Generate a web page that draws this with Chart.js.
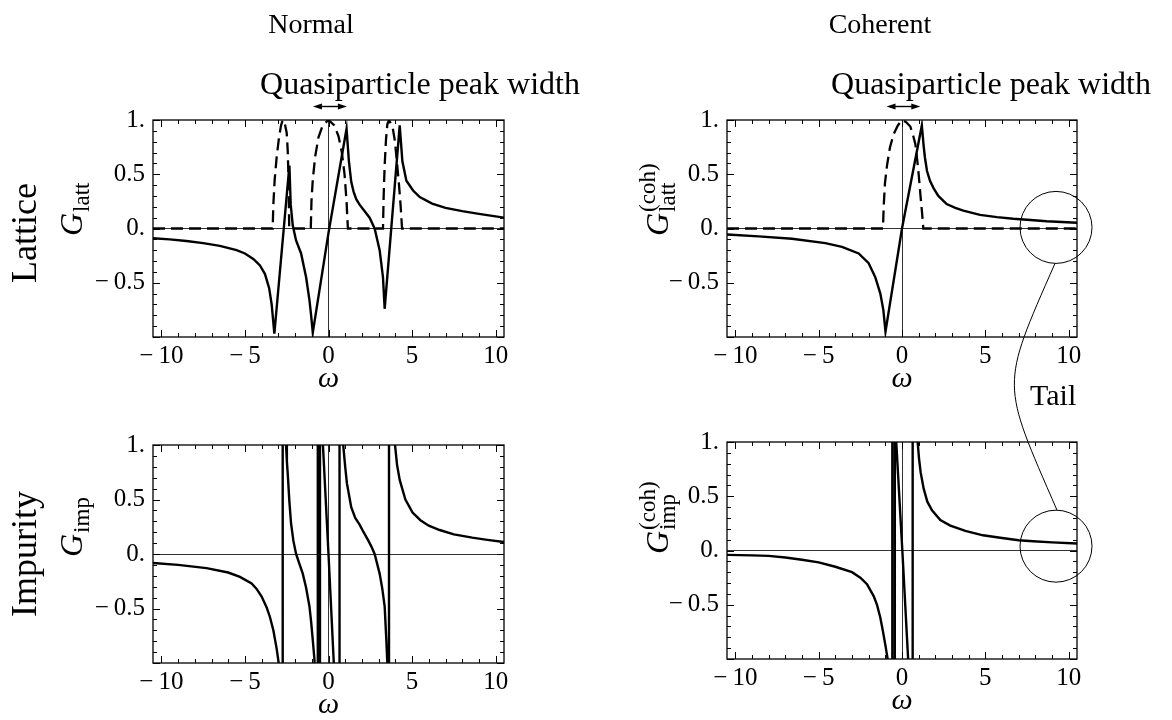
<!DOCTYPE html>
<html><head><meta charset="utf-8">
<script src="https://cdn.jsdelivr.net/npm/chart.js@4.4.1/dist/chart.umd.min.js"></script>
<style>
html,body{margin:0;padding:0;background:#fff;}
#wrap{position:relative;width:1172px;height:720px;overflow:hidden;background:#fff;}
canvas.pc{position:absolute;}
#ov{position:absolute;left:0;top:0;pointer-events:none;}
</style></head><body>
<div id="wrap">
<canvas id="c1" class="pc"></canvas>
<canvas id="c2" class="pc"></canvas>
<canvas id="c3" class="pc"></canvas>
<canvas id="c4" class="pc"></canvas>
<svg id="ov" width="1172" height="720" xmlns="http://www.w3.org/2000/svg"></svg>
</div>
<script>
// ---------------- data ----------------
const xRange = [-10.5, 10.5];
const yRange = [-1, 1];
const xTickValues = [-10, -5, 0, 5, 10];
const xTickLabels = ['\u2212\u200910', '\u2212\u20095', '0', '5', '10'];
const yTickValues = [-0.5, 0, 0.5, 1];
const yTickLabels = ['\u2212\u20090.5', '0.', '0.5', '1.'];

// Normal, lattice: Re G (solid)
const latticeNormalX = [-10.5,-9.5,-8.5,-7.5,-6.5,-5.5,-5,-4.5,-4.1,-3.8,-3.55,-3.4,-3.24,-2.34,-2.26,-2.14,-1.94,-1.64,-1.34,-1.14,-1.04,-0.94,0,1.08,1.22,1.36,1.5,1.66,1.86,2.06,2.46,2.76,3.06,3.26,3.36,4.26,4.42,4.66,5.06,5.46,6.2,7,8,9,10.5];
const latticeNormalY = [-0.09,-0.1,-0.115,-0.135,-0.16,-0.2,-0.23,-0.28,-0.34,-0.42,-0.55,-0.7,-0.97,0.58,0.22,0.03,-0.11,-0.23,-0.45,-0.66,-0.8,-0.96,-0.04,0.92,0.62,0.43,0.34,0.27,0.22,0.18,0.1,0.0,-0.2,-0.45,-0.74,0.95,0.62,0.44,0.35,0.29,0.23,0.19,0.16,0.135,0.1];
// Normal, lattice: spectral bumps (dashed)
const latticeNormalDashX = [-10.5,-3.34,-3.3,-3.22,-3.1,-2.96,-2.84,-2.74,-2.62,-2.5,-2.44,-2.39,-2.35,-1.06,-1.02,-0.94,-0.8,-0.6,-0.35,0,0.35,0.6,0.8,0.96,1.08,1.16,3.26,3.3,3.36,3.44,3.52,3.62,3.72,3.85,3.98,4.1,4.22,4.32,4.4,10.5];
const latticeNormalDashY = [0,0,0.22,0.45,0.66,0.84,0.95,1.0,0.97,0.88,0.72,0.45,0,0,0.25,0.45,0.66,0.84,0.95,1.0,0.95,0.85,0.7,0.5,0.25,0,0,0.3,0.58,0.82,0.96,1.0,0.97,0.92,0.8,0.6,0.4,0.2,0,0];

// Coherent, lattice
const latticeCohX = [-10.5,-8.6,-6.6,-4.6,-3.6,-2.6,-2.0,-1.6,-1.3,-1.12,-0.99,0,1.19,1.3,1.38,1.5,1.68,1.9,2.18,2.68,3.2,3.68,4.68,5.7,6.68,7.7,8.68,9.6,10.5];
const latticeCohY = [-0.055,-0.073,-0.095,-0.135,-0.17,-0.23,-0.32,-0.45,-0.6,-0.75,-0.95,0,0.95,0.76,0.65,0.53,0.44,0.37,0.3,0.225,0.19,0.165,0.125,0.105,0.09,0.078,0.067,0.06,0.053];
const latticeCohDashX = [-10.5,-1.14,-1.1,-1.02,-0.9,-0.72,-0.5,-0.25,0,0.25,0.5,0.68,0.8,0.9,1.0,1.1,1.2,1.28,10.5];
const latticeCohDashY = [0,0,0.2,0.42,0.58,0.75,0.87,0.95,1.0,0.98,0.94,0.85,0.78,0.65,0.5,0.32,0.15,0,0];

// Normal, impurity (null = break across a pole)
const impurityNormalX = [-10.5,-9,-7.3,-6,-5.3,-4.6,-4.3,-4,-3.7,-3.5,-3.3,-3.1,-2.98,-2.92,-2.85,
  -2.74,-2.74,-2.7,
  -2.58,-2.54,-2.49,-2.44,-2.34,-2.24,-2.1,-1.94,-1.74,-1.54,-1.34,-1.14,-1.04,-0.94,-0.84,-0.8,-0.77,
  -0.64,-0.64,-0.6,
  -0.51,-0.51,-0.47,
  -0.4,0,0.38,0.4,
  0.66,0.66,0.7,
  0.84,0.88,1.0,1.1,1.36,1.6,1.86,2.1,2.36,2.56,2.76,3.06,3.22,3.36,3.46,3.52,3.55,3.58,
  3.62,3.62,3.66,
  3.9,3.98,4.1,4.26,4.6,5.03,5.5,6.0,6.65,7.5,8.6,9.5,10.5];
const impurityNormalY = [-0.083,-0.1,-0.13,-0.17,-0.21,-0.27,-0.32,-0.39,-0.49,-0.58,-0.7,-0.87,-1.0,-1.2,null,
  -1.5,1.5,null,
  1.3,1.0,0.85,0.74,0.48,0.28,0.12,0.0,-0.09,-0.18,-0.31,-0.48,-0.62,-0.79,-0.97,-1.2,null,
  -1.5,1.5,null,
  -1.5,1.5,null,
  1.2,0.0,-1.2,null,
  -1.5,1.5,null,
  1.3,1.0,0.8,0.65,0.43,0.33,0.27,0.2,0.13,0.07,0.0,-0.18,-0.32,-0.48,-0.79,-1.0,-1.3,null,
  -1.5,1.5,null,
  1.3,1.0,0.82,0.68,0.5,0.38,0.31,0.26,0.22,0.18,0.15,0.13,0.11];

// Coherent, impurity
const impurityCohX = [-10.5,-9,-8,-7,-6,-5,-4,-3,-2.5,-2.1,-1.7,-1.5,-1.3,-1.15,-1.0,-0.86,-0.83,-0.8,
  -0.58,-0.58,-0.55,
  -0.43,-0.43,-0.41,
  -0.4,0.02,0.42,0.45,
  0.64,0.64,0.67,
  0.9,0.94,1.02,1.12,1.3,1.52,1.8,2.3,2.9,3.8,4.86,6,7,7.86,9,10.5];
const impurityCohY = [-0.04,-0.045,-0.05,-0.065,-0.085,-0.11,-0.15,-0.2,-0.25,-0.31,-0.42,-0.5,-0.62,-0.74,-0.87,-1.0,-1.3,null,
  -1.5,1.5,null,
  -1.5,1.5,null,
  1.15,0.0,-1.15,null,
  -1.5,1.5,null,
  1.3,1.0,0.85,0.72,0.57,0.45,0.37,0.28,0.23,0.18,0.14,0.115,0.095,0.085,0.075,0.065];

// annotations in data units
const peakWidthArrow = [-0.93, 1.1];
const tailCircleTop = [9.24, 0.01];
const tailCircleBottom = [9.24, 0.04];

// ---------------- layout ----------------
const FONT = '"Liberation Serif", "DejaVu Serif", serif';
const boxes = {
  c1: [153, 120, 504, 337],
  c2: [727, 120, 1077, 337],
  c3: [153, 445, 504, 663],
  c4: [727, 442, 1077, 659]
};
const PADL = 120, PADT = 24, PADR = 30, XH = 60, PADB = 4;

function pts(xs, ys) { return xs.map((x, i) => ({x: x, y: ys[i]})); }
function solid(xs, ys) {
  return {data: pts(xs, ys), borderColor: '#000', borderWidth: 2.4, pointRadius: 0, tension: 0, spanGaps: false, clip: 0, fill: false};
}
function dashed(xs, ys) {
  return {data: pts(xs, ys), borderColor: '#000', borderWidth: 2.3, borderDash: [12, 6], pointRadius: 0, tension: 0, clip: 0, fill: false};
}

const framePlugin = {
  id: 'frame',
  afterDatasetsDraw(chart) {
    const {ctx, chartArea: a, scales: {x, y}} = chart;
    ctx.save();
    ctx.strokeStyle = '#000';
    ctx.lineWidth = 1.3;
    ctx.strokeRect(a.left, a.top, a.right - a.left, a.bottom - a.top);
    ctx.lineWidth = 1;
    ctx.beginPath();
    for (let v = -10; v <= 10; v++) {
      const px = Math.round(x.getPixelForValue(v)) + 0.5;
      const len = v % 5 === 0 ? 7 : 4;
      ctx.moveTo(px, a.bottom); ctx.lineTo(px, a.bottom - len);
      ctx.moveTo(px, a.top); ctx.lineTo(px, a.top + len);
    }
    for (let k = -10; k <= 10; k++) {
      const py = Math.round(y.getPixelForValue(k / 10)) + 0.5;
      const len = k % 5 === 0 ? 7 : 4;
      ctx.moveTo(a.left, py); ctx.lineTo(a.left + len, py);
      ctx.moveTo(a.right, py); ctx.lineTo(a.right - len, py);
    }
    ctx.stroke();
    ctx.restore();
  }
};

function makePanel(id, datasets) {
  const [L, T, R, B] = boxes[id];
  const W = R - L, H = B - T;
  const cv = document.getElementById(id);
  cv.width = W + PADL + PADR; cv.height = H + PADT + XH + PADB;
  cv.style.left = (L - PADL) + 'px'; cv.style.top = (T - PADT) + 'px';
  cv.style.width = cv.width + 'px'; cv.style.height = cv.height + 'px';
  const axisColor = c => (c.tick && c.tick.value === 0) ? '#333' : 'rgba(0,0,0,0)';
  return new Chart(cv, {
    type: 'line',
    data: {datasets: datasets},
    options: {
      responsive: false, animation: false, devicePixelRatio: 1,
      layout: {padding: {left: 0, top: PADT, right: PADR, bottom: PADB}},
      plugins: {legend: {display: false}, tooltip: {enabled: false}},
      elements: {point: {radius: 0}, line: {tension: 0}},
      scales: {
        x: {
          type: 'linear', min: xRange[0], max: xRange[1],
          afterFit: s => { s.height = XH; },
          afterBuildTicks: s => { s.ticks = xTickValues.map(v => ({value: v})); },
          ticks: {autoSkip: false, maxRotation: 0, minRotation: 0, padding: 4, color: '#000',
                  font: {family: FONT, size: 25}, callback: (v, i) => xTickLabels[i]},
          grid: {drawTicks: false, color: axisColor, lineWidth: 1},
          border: {display: false},
          title: {display: true, text: '\u03c9', color: '#000', padding: {top: 0, bottom: 0},
                  font: {family: FONT, size: 30, style: 'italic'}}
        },
        y: {
          type: 'linear', min: yRange[0], max: yRange[1],
          afterFit: s => { s.width = PADL; },
          afterBuildTicks: s => { s.ticks = yTickValues.map(v => ({value: v})); },
          ticks: {autoSkip: false, padding: 8, color: '#000',
                  font: {family: FONT, size: 25}, callback: (v, i) => yTickLabels[i]},
          grid: {drawTicks: false, color: axisColor, lineWidth: 1},
          border: {display: false}
        }
      }
    },
    plugins: [framePlugin]
  });
}

const ch1 = makePanel('c1', [solid(latticeNormalX, latticeNormalY), dashed(latticeNormalDashX, latticeNormalDashY)]);
const ch2 = makePanel('c2', [solid(latticeCohX, latticeCohY), dashed(latticeCohDashX, latticeCohDashY)]);
const ch3 = makePanel('c3', [solid(impurityNormalX, impurityNormalY)]);
const ch4 = makePanel('c4', [solid(impurityCohX, impurityCohY)]);

// ---------------- overlay annotations ----------------
const NS = 'http://www.w3.org/2000/svg';
const svg = document.getElementById('ov');
function el(tag, attrs, parent, text) {
  const e = document.createElementNS(NS, tag);
  for (const k in attrs) e.setAttribute(k, attrs[k]);
  if (text !== undefined) e.textContent = text;
  (parent || svg).appendChild(e);
  return e;
}
function pagePx(chart, xv, yv) {
  const cv = chart.canvas;
  return [parseFloat(cv.style.left) + chart.scales.x.getPixelForValue(xv),
          parseFloat(cv.style.top) + chart.scales.y.getPixelForValue(yv)];
}
const txt = {fill: '#000', 'font-family': FONT};
function label(x, y, size, s, anchor, extra) {
  return el('text', Object.assign({x: x, y: y, 'font-size': size, 'text-anchor': anchor || 'middle'}, txt, extra || {}), svg, s);
}
label(311, 33, 28, 'Normal');
label(880, 33, 28, 'Coherent');
label(420, 94, 32, 'Quasiparticle peak width');
label(991, 94, 32, 'Quasiparticle peak width');
label(0, 0, 36, 'Lattice', 'middle', {transform: 'translate(36,233) rotate(-90)'});
label(0, 0, 36, 'Impurity', 'middle', {transform: 'translate(36,554) rotate(-90)'});
label(1030, 405, 30, 'Tail', 'start');

function yTitle(bx, by, sub, sup) {
  const g = el('g', {transform: 'translate(' + bx + ',' + by + ') rotate(-90)'});
  const G = el('text', Object.assign({x: 0, y: 0, 'font-size': 32, 'font-style': 'italic'}, txt), g, 'G');
  const gw = G.getComputedTextLength();
  el('text', Object.assign({x: gw + 1, y: 7, 'font-size': 23}, txt), g, sub);
  if (sup) el('text', Object.assign({x: gw + 1, y: -13, 'font-size': 23}, txt), g, sup);
}
yTitle(82, 236, 'latt');
yTitle(82, 557, 'imp');
yTitle(668, 236, 'latt', '(coh)');
yTitle(668, 554, 'imp', '(coh)');

// quasiparticle peak width arrows
function dblArrow(chart) {
  const [x1] = pagePx(chart, peakWidthArrow[0], 0);
  const [x2] = pagePx(chart, peakWidthArrow[1], 0);
  const y = parseFloat(chart.canvas.style.top) + chart.chartArea.top - 13.5;
  el('line', {x1: x1 + 6, y1: y, x2: x2 - 6, y2: y, stroke: '#000', 'stroke-width': 1.4});
  el('polygon', {points: `${x1},${y} ${x1 + 9},${y - 3} ${x1 + 9},${y + 3}`, fill: '#000'});
  el('polygon', {points: `${x2},${y} ${x2 - 9},${y - 3} ${x2 - 9},${y + 3}`, fill: '#000'});
}
dblArrow(ch1);
dblArrow(ch2);

// tail circles and connector
const R = 36;
const c1p = pagePx(ch2, tailCircleTop[0], tailCircleTop[1]);
const c2p = pagePx(ch4, tailCircleBottom[0], tailCircleBottom[1]);
el('circle', {cx: c1p[0], cy: c1p[1], r: R, fill: 'none', stroke: '#000', 'stroke-width': 1});
el('circle', {cx: c2p[0], cy: c2p[1], r: R, fill: 'none', stroke: '#000', 'stroke-width': 1});
const sx = c1p[0] - 1, sy = c1p[1] + R, ex = c2p[0] + 1, ey = c2p[1] - R;
el('path', {d: `M${sx},${sy} C${sx - 55},${sy + 125} ${ex - 56},${ey - 129} ${ex},${ey}`, fill: 'none', stroke: '#000', 'stroke-width': 1});
</script>
</body></html>
